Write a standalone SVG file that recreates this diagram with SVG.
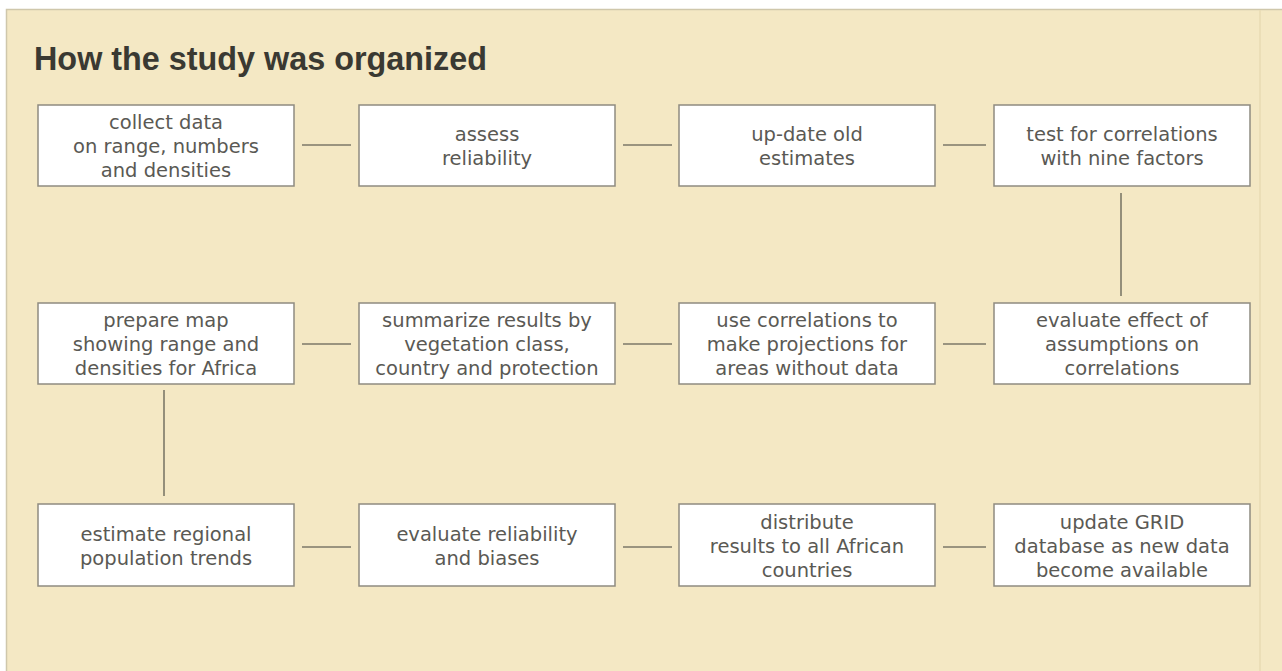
<svg xmlns="http://www.w3.org/2000/svg" width="1282" height="671" viewBox="0 0 1282 671">
  <style>
    .box { fill: #ffffff; stroke: #8e8b80; stroke-width: 1.5; }
    .lbl { font-family: "DejaVu Sans", "Liberation Sans", sans-serif; font-size: 19.5px; fill: #5a5954; text-anchor: middle; }
    .link { stroke: #7c7868; stroke-width: 1.6; fill: none; }
    .title { font-family: "Liberation Sans", Arial, sans-serif; font-weight: bold; font-size: 34px; fill: #3a3932; }
  </style>

  <!-- page and panel -->
  <rect x="0" y="0" width="1282" height="671" fill="#ffffff"/>
  <rect x="6" y="9" width="1276" height="662" fill="#f4e8c4"/>
  <path d="M6.5 671 V9.5 H1282" fill="none" stroke="#cfc7ab" stroke-width="1.5"/>
  <line x1="1260" y1="10" x2="1260" y2="671" stroke="#e8dbb3" stroke-width="1.5"/>

  <text class="title" x="34" y="70" textLength="453" lengthAdjust="spacingAndGlyphs">How the study was organized</text>

  <!-- connectors -->
  <g id="connectors">
    <line class="link" x1="302" y1="145" x2="351" y2="145"/>
    <line class="link" x1="623" y1="145" x2="672" y2="145"/>
    <line class="link" x1="943" y1="145" x2="986" y2="145"/>
    <line class="link" x1="1121" y1="193" x2="1121" y2="296"/>
    <line class="link" x1="302" y1="344" x2="351" y2="344"/>
    <line class="link" x1="623" y1="344" x2="672" y2="344"/>
    <line class="link" x1="943" y1="344" x2="986" y2="344"/>
    <line class="link" x1="164" y1="390" x2="164" y2="496"/>
    <line class="link" x1="302" y1="547" x2="351" y2="547"/>
    <line class="link" x1="623" y1="547" x2="672" y2="547"/>
    <line class="link" x1="943" y1="547" x2="986" y2="547"/>
  </g>

  <!-- row 1 -->
  <g id="collect-data">
    <rect class="box" x="38" y="105" width="256" height="81"/>
    <text class="lbl" x="166" y="129">collect data</text>
    <text class="lbl" x="166" y="153">on range, numbers</text>
    <text class="lbl" x="166" y="177">and densities</text>
  </g>
  <g id="assess-reliability">
    <rect class="box" x="359" y="105" width="256" height="81"/>
    <text class="lbl" x="487" y="141">assess</text>
    <text class="lbl" x="487" y="165">reliability</text>
  </g>
  <g id="update-estimates">
    <rect class="box" x="679" y="105" width="256" height="81"/>
    <text class="lbl" x="807" y="141">up-date old</text>
    <text class="lbl" x="807" y="165">estimates</text>
  </g>
  <g id="test-correlations">
    <rect class="box" x="994" y="105" width="256" height="81"/>
    <text class="lbl" x="1122" y="141">test for correlations</text>
    <text class="lbl" x="1122" y="165">with nine factors</text>
  </g>

  <!-- row 2 -->
  <g id="prepare-map">
    <rect class="box" x="38" y="303" width="256" height="81"/>
    <text class="lbl" x="166" y="327">prepare map</text>
    <text class="lbl" x="166" y="351">showing range and</text>
    <text class="lbl" x="166" y="375">densities for Africa</text>
  </g>
  <g id="summarize-results">
    <rect class="box" x="359" y="303" width="256" height="81"/>
    <text class="lbl" x="487" y="327">summarize results by</text>
    <text class="lbl" x="487" y="351">vegetation class,</text>
    <text class="lbl" x="487" y="375">country and protection</text>
  </g>
  <g id="use-correlations">
    <rect class="box" x="679" y="303" width="256" height="81"/>
    <text class="lbl" x="807" y="327">use correlations to</text>
    <text class="lbl" x="807" y="351">make projections for</text>
    <text class="lbl" x="807" y="375">areas without data</text>
  </g>
  <g id="evaluate-assumptions">
    <rect class="box" x="994" y="303" width="256" height="81"/>
    <text class="lbl" x="1122" y="327">evaluate effect of</text>
    <text class="lbl" x="1122" y="351">assumptions on</text>
    <text class="lbl" x="1122" y="375">correlations</text>
  </g>

  <!-- row 3 -->
  <g id="estimate-trends">
    <rect class="box" x="38" y="504" width="256" height="82"/>
    <text class="lbl" x="166" y="541">estimate regional</text>
    <text class="lbl" x="166" y="565">population trends</text>
  </g>
  <g id="evaluate-reliability">
    <rect class="box" x="359" y="504" width="256" height="82"/>
    <text class="lbl" x="487" y="541">evaluate reliability</text>
    <text class="lbl" x="487" y="565">and biases</text>
  </g>
  <g id="distribute-results">
    <rect class="box" x="679" y="504" width="256" height="82"/>
    <text class="lbl" x="807" y="529">distribute</text>
    <text class="lbl" x="807" y="553">results to all African</text>
    <text class="lbl" x="807" y="577">countries</text>
  </g>
  <g id="update-grid">
    <rect class="box" x="994" y="504" width="256" height="82"/>
    <text class="lbl" x="1122" y="529">update GRID</text>
    <text class="lbl" x="1122" y="553">database as new data</text>
    <text class="lbl" x="1122" y="577">become available</text>
  </g>
</svg>
